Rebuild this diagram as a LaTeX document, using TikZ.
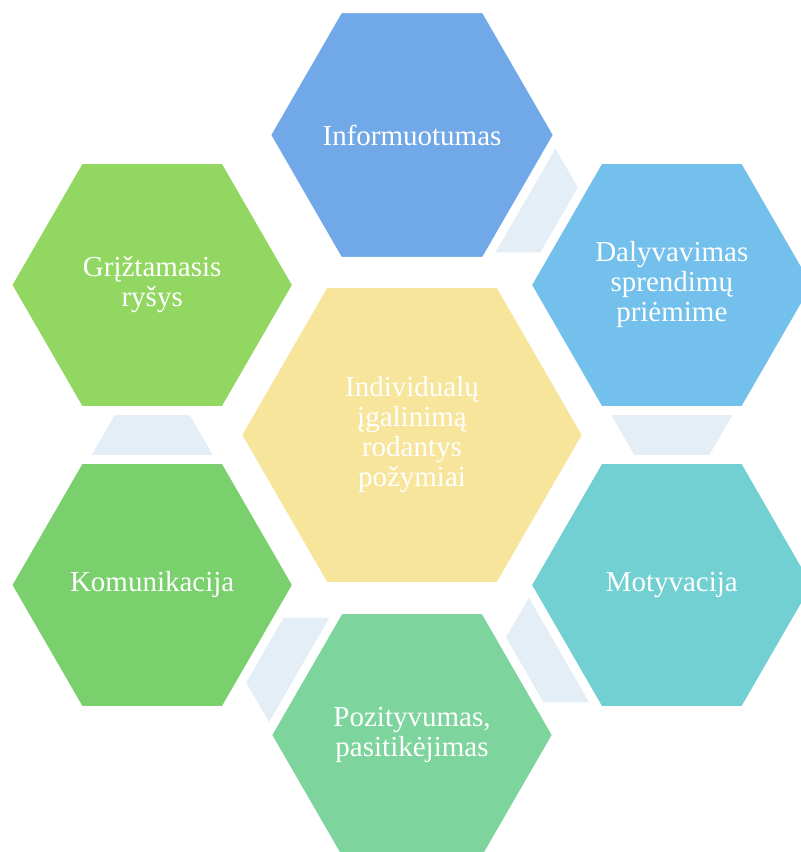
\documentclass[tikz,border=0pt]{standalone}
\usepackage{fontspec}
\setmainfont{Liberation Serif}
\usetikzlibrary{shapes.geometric,positioning,calc}
\definecolor{infoblue}{RGB}{112,168,232}
\definecolor{dalblue}{RGB}{114,192,235}
\definecolor{motteal}{RGB}{114,207,210}
\definecolor{pozgreen}{RGB}{125,212,156}
\definecolor{komgreen}{RGB}{121,208,108}
\definecolor{grigreen}{RGB}{146,215,97}
\definecolor{coreyellow}{RGB}{246,229,155}
\definecolor{paleblue}{RGB}{228,238,247}
\tikzstyle{every node}=[inner sep=0pt]
\tikzstyle{hexa}=[regular polygon,regular polygon sides=6,minimum size=290pt,draw=white,line width=9pt,text=white,align=center,font=\fontsize{29}{30}\selectfont]
\tikzstyle{corehexa}=[hexa,minimum size=350pt]
\tikzstyle{link}=[regular polygon,regular polygon sides=6,minimum size=142pt,fill=paleblue]

\begin{document}
\begin{tikzpicture}[x=1pt,y=1pt]
  \useasboundingbox (0,0) rectangle (801,852);
  \coordinate (mid) at (412,417);
  \coordinate (p1) at ($(mid)+(90:300)$);
  \coordinate (p2) at ($(mid)+(30:300)$);
  \coordinate (p3) at ($(mid)+(-30:300)$);
  \coordinate (p4) at ($(mid)+(-90:300)$);
  \coordinate (p5) at ($(mid)+(-150:300)$);
  \coordinate (p6) at ($(mid)+(150:300)$);
  \node[link] (l12) at ($(p1)!0.373!(p2)$) {};
  \node[link] (l23) at ($(p2)!0.373!(p3)$) {};
  \node[link] (l34) at ($(p3)!0.373!(p4)$) {};
  \node[link] (l45) at ($(p4)!0.373!(p5)$) {};
  \node[link] (l56) at ($(p5)!0.373!(p6)$) {};
  \node[corehexa,fill=coreyellow] (pozymiai) at (mid) {Individualų\\įgalinimą\\rodantys\\požymiai};
  \node[hexa,fill=infoblue] (informuotumas) at (p1) {Informuotumas};
  \node[hexa,fill=dalblue] (dalyvavimas) at (p2) {Dalyvavimas\\sprendimų\\priėmime};
  \node[hexa,fill=motteal] (motyvacija) at (p3) {Motyvacija};
  \node[hexa,fill=pozgreen] (pozityvumas) at (p4) {Pozityvumas,\\pasitikėjimas};
  \node[hexa,fill=komgreen] (komunikacija) at (p5) {Komunikacija};
  \node[hexa,fill=grigreen] (rysys) at (p6) {Grįžtamasis\\ryšys};
\end{tikzpicture}
\end{document}
